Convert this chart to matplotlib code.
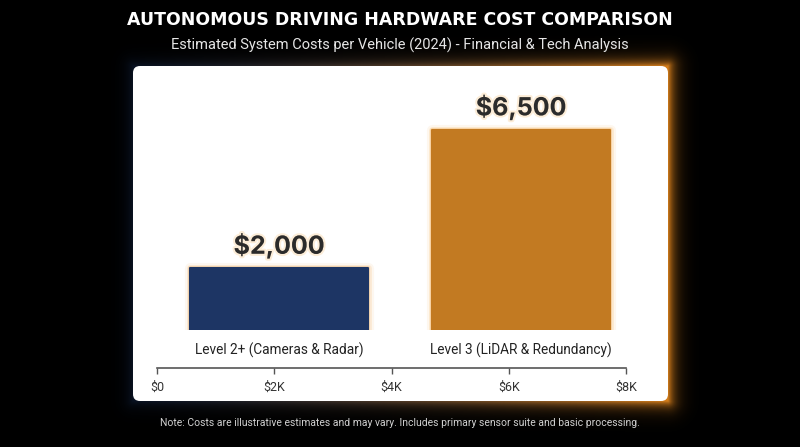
import numpy as np
import matplotlib.pyplot as plt
from matplotlib.patches import FancyBboxPatch
import matplotlib.patheffects as pe

# data
categories = ['Level 2+ (Cameras & Radar)', 'Level 3 (LiDAR & Redundancy)']
costs = [2000, 6500]
value_labels = ['$2,000', '$6,500']
bar_colors = ['#1d3564', '#c27a22']
glow_colors = ['#f0a040', '#f5a030']
axis_ticks = [0, 2000, 4000, 6000, 8000]
axis_ticklabels = ['$0', '$2K', '$4K', '$6K', '$8K']

W, H = 800, 447
fig = plt.figure(figsize=(W / 100, H / 100), dpi=100)
fig.patch.set_facecolor('black')

def fx(px):
    return px / W

def fy(py):
    return 1 - py / H

# glow behind the panel (dark blue on the left, orange on the right)
px0, py0, px1, py1 = 133, 66, 668, 401
bg = fig.add_axes([0, 0, 1, 1])
bg.set_zorder(0)
bg.axis('off')
yy, xx = np.mgrid[0:H, 0:W] + 0.5
dx = np.maximum(np.maximum(px0 - xx, xx - px1), 0)
dy = np.maximum(np.maximum(py0 - yy, yy - py1), 0)
d = np.hypot(dx, dy)
t = np.clip((xx - px0) / (px1 - px0), 0, 1)[..., None]
c_left = np.array([0.10, 0.20, 0.38])
c_right = np.array([0.93, 0.55, 0.12])
col = c_left * (1 - t) + c_right * t
strength = (0.35 + 0.55 * t[..., 0]) * np.exp(-d / 6.5)
img = np.dstack([col, strength])
bg.imshow(img, extent=[0, W, H, 0], interpolation='bilinear')
bg.set_xlim(0, W)
bg.set_ylim(H, 0)

# titles
fig.text(0.5, fy(20), 'AUTONOMOUS DRIVING HARDWARE COST COMPARISON', ha='center', va='center',
         color='white', fontsize=12.5, fontweight='bold', family='DejaVu Sans', zorder=5)
fig.text(0.5, fy(45), 'Estimated System Costs per Vehicle (2024) - Financial & Tech Analysis',
         ha='center', va='center', color='#e6e6e6', fontsize=10.5, family='Roboto', zorder=5)
fig.text(0.5, fy(423), 'Note: Costs are illustrative estimates and may vary. Includes primary sensor suite and basic processing.',
         ha='center', va='center', color='#d0d0d0', fontsize=7.5, family='Roboto', zorder=5)

# panel
panel_ax = fig.add_axes([0, 0, 1, 1])
panel_ax.set_zorder(1)
panel_ax.axis('off')
panel_ax.set_xlim(0, W)
panel_ax.set_ylim(H, 0)
panel_ax.add_patch(FancyBboxPatch((px0, py0), px1 - px0, py1 - py0,
                                  boxstyle='round,pad=0,rounding_size=7',
                                  facecolor='white', edgecolor='none'))

# bar axes
ax = fig.add_axes([fx(133), fy(330), fx(534), (330 - 67) / H])
ax.set_zorder(3)
ax.set_facecolor('none')
x = [0, 1]
width = 0.736
for i in range(2):
    for lw, a in [(8, 0.08), (5, 0.14), (3, 0.25)]:
        ax.bar(x[i], costs[i], width=width, color='none', edgecolor=glow_colors[i], linewidth=lw,
               alpha=a, joinstyle='round', zorder=2)
    ax.bar(x[i], costs[i], width=width, color=bar_colors[i], edgecolor=bar_colors[i], linewidth=1.5,
           joinstyle='round', zorder=3)
    ax.annotate(value_labels[i], (x[i], costs[i]), xytext=(0, 7), textcoords='offset points',
                ha='center', va='bottom', fontsize=18, fontweight='bold', color='#2b2b2b',
                family='Inter',
                path_effects=[pe.withStroke(linewidth=3, foreground='#fce6c8', alpha=0.7)], zorder=4)
ax.set_xlim(-0.603, 1.603)
ax.set_ylim(0, 8550)
ax.set_xticks(x)
ax.set_xticklabels(categories, fontsize=9.8, color='#222222', family='Roboto')
ax.tick_params(axis='x', length=0, pad=9)
ax.set_yticks([])
for s in ax.spines.values():
    s.set_visible(False)

# cost scale
ax2 = fig.add_axes([fx(157), fy(368), fx(626 - 157), 0.001])
ax2.set_zorder(3)
ax2.set_facecolor('none')
ax2.set_xlim(0, 8000)
ax2.set_xticks(axis_ticks)
ax2.set_xticklabels(axis_ticklabels, fontsize=9, color='#333333', family='Roboto')
ax2.tick_params(axis='x', direction='out', length=4, width=1, color='#555555', pad=5)
ax2.set_yticks([])
for k in ['top', 'left', 'right']:
    ax2.spines[k].set_visible(False)
ax2.spines['bottom'].set_color('#555555')
ax2.spines['bottom'].set_linewidth(1.2)

fig.savefig('out.png', dpi=100, facecolor='black')
